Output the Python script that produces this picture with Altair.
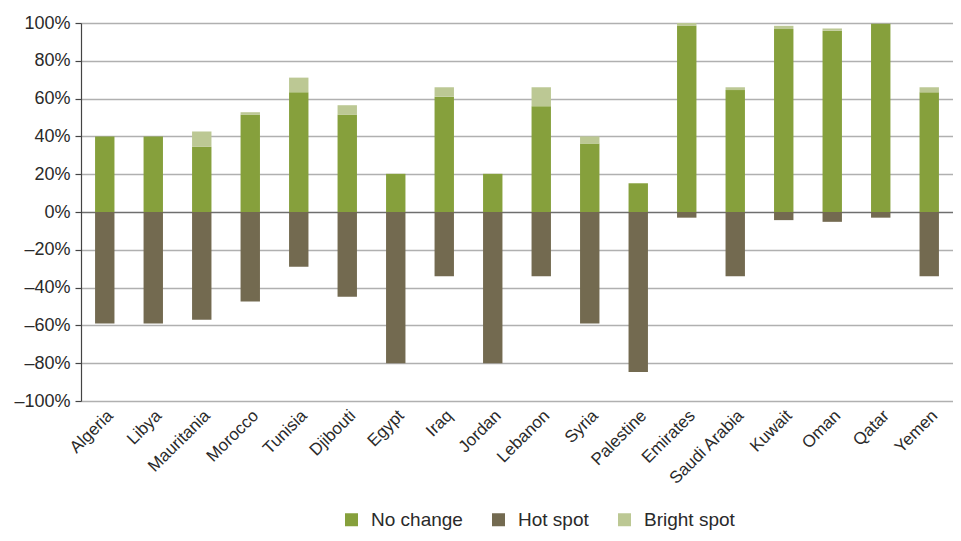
import altair as alt
import pandas as pd

countries = ["Algeria", "Libya", "Mauritania", "Morocco", "Tunisia", "Djibouti", "Egypt", "Iraq",
             "Jordan", "Lebanon", "Syria", "Palestine", "Emirates", "Saudi Arabia", "Kuwait",
             "Oman", "Qatar", "Yemen"]
no_change = [40, 40, 34.5, 51.4, 63.4, 51.4, 20.2, 61, 20.2, 56, 36.2, 15.2, 98.5, 64.5, 96.8, 95.9, 99.6, 63.3]
bright_spot = [0, 0, 8.1, 1.4, 7.7, 5.1, 0, 5, 0, 10, 3.8, 0, 1.5, 1.5, 1.7, 1.2, 0, 2.7]
hot_spot = [59, 59, 57, 47.4, 29, 44.8, 80, 34, 80, 34, 59, 84.7, 3, 34, 4.3, 5.2, 3, 34]
y_ticks = [-100, -80, -60, -40, -20, 0, 20, 40, 60, 80, 100]

categories = ["No change", "Hot spot", "Bright spot"]
colors = ["#86a03c", "#736a50", "#bcc894"]

rows = []
for i, c in enumerate(countries):
    rows.append({"country": c, "category": "No change", "pct": no_change[i], "ord": 0})
    rows.append({"country": c, "category": "Bright spot", "pct": bright_spot[i], "ord": 1})
    rows.append({"country": c, "category": "Hot spot", "pct": -hot_spot[i], "ord": 2})
df = pd.DataFrame(rows)

chart = alt.Chart(df).mark_bar().encode(
    x=alt.X("country:N", sort=countries,
            scale=alt.Scale(paddingInner=0.6, paddingOuter=0.29),
            axis=alt.Axis(title=None, labelAngle=-45, labelAlign="right", labelBaseline="top",
                          ticks=False, domain=False, grid=False, labelFontSize=17,
                          labelColor="#2a2a2a", labelPadding=6, labelOverlap=False)),
    y=alt.Y("pct:Q", stack="zero",
            scale=alt.Scale(domain=[-100, 100], nice=False),
            axis=alt.Axis(title=None, values=y_ticks,
                          labelExpr="(datum.value < 0 ? '\u2013' : '') + abs(datum.value) + '%'",
                          labelOverlap=False,
                          grid=True, gridWidth=1.5,
                          gridColor={"condition": {"test": "datum.value === 0", "value": "#6f6f6f"},
                                     "value": "#b0b0b0"},
                          domainColor="#444444", domainWidth=1.2,
                          tickColor="#444444", tickSize=6, tickWidth=1.2,
                          labelFontSize=18, labelColor="#2a2a2a", labelPadding=5)),
    color=alt.Color("category:N",
                    scale=alt.Scale(domain=categories, range=colors),
                    legend=alt.Legend(title=None, orient="none", direction="horizontal",
                                      legendX=261, legendY=487, symbolType="square",
                                      symbolSize=169, symbolStrokeWidth=0,
                                      labelFontSize=19, labelColor="#2a2a2a",
                                      labelOffset=10, columnPadding=26, padding=0)),
    order=alt.Order("ord:Q"),
).properties(
    width=872, height=378,
    autosize=alt.AutoSizeParams(type="none"),
    padding={"left": 73, "top": 15, "right": 0, "bottom": 132},
).configure(font="Liberation Sans").configure_view(stroke=None)

chart.save("out.html", embed_options={"renderer": "svg", "actions": False})
